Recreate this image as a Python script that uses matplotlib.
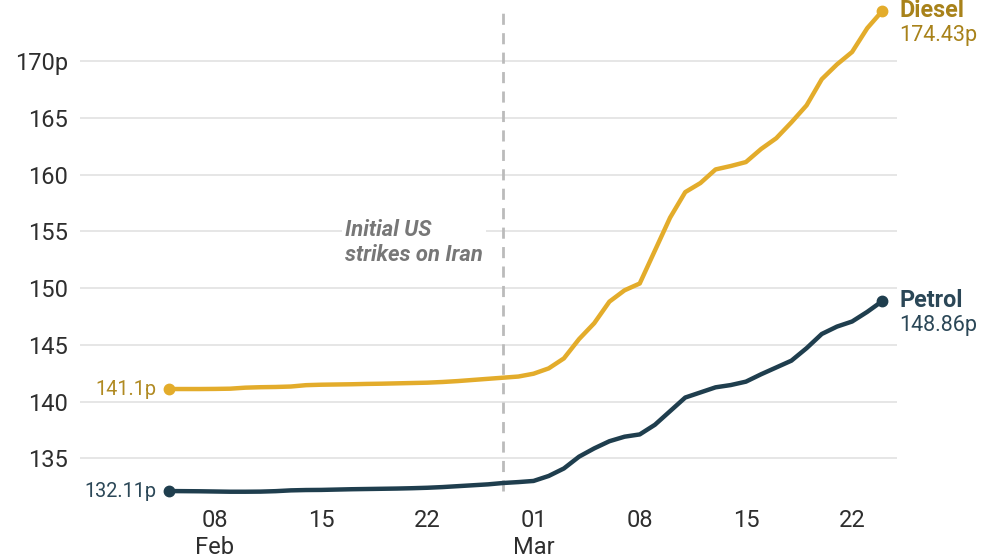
import matplotlib
matplotlib.use('Agg')
import matplotlib.pyplot as plt
import matplotlib.dates as mdates
from datetime import datetime, timedelta

plt.rcParams['font.family'] = ['Roboto', 'DejaVu Sans']

# ---------------- data ----------------
start_date = datetime(2026, 2, 5)
n_days = 48
dates = [start_date + timedelta(days=i) for i in range(n_days)]

diesel = [141.10, 141.10, 141.10, 141.11, 141.13, 141.22, 141.26, 141.28,
          141.32, 141.44, 141.48, 141.50, 141.52, 141.55, 141.57, 141.60,
          141.63, 141.66, 141.72, 141.80, 141.90, 142.00, 142.10, 142.20,
          142.45, 142.92, 143.80, 145.50, 146.90, 148.80, 149.80, 150.40,
          153.30, 156.20, 158.45, 159.25, 160.45, 160.75, 161.10, 162.25,
          163.20, 164.60, 166.10, 168.40, 169.70, 170.80, 172.90, 174.43]

petrol = [132.11, 132.10, 132.09, 132.07, 132.05, 132.05, 132.06, 132.10,
          132.17, 132.20, 132.21, 132.24, 132.27, 132.29, 132.31, 132.33,
          132.36, 132.40, 132.46, 132.54, 132.62, 132.70, 132.82, 132.90,
          133.00, 133.44, 134.10, 135.14, 135.87, 136.50, 136.90, 137.10,
          137.95, 139.15, 140.35, 140.80, 141.25, 141.45, 141.75, 142.40,
          143.00, 143.60, 144.70, 145.95, 146.60, 147.05, 147.90, 148.86]

series_names = ['Diesel', 'Petrol']
start_labels = ['141.1p', '132.11p']
end_labels = ['174.43p', '148.86p']

tick_dates = [datetime(2026, 2, 8), datetime(2026, 2, 15), datetime(2026, 2, 22),
              datetime(2026, 3, 1), datetime(2026, 3, 8), datetime(2026, 3, 15),
              datetime(2026, 3, 22)]
tick_labels = ['08\nFeb', '15', '22', '01\nMar', '08', '15', '22']

y_ticks = [135, 140, 145, 150, 155, 160, 165, 170]
y_tick_labels = ['135', '140', '145', '150', '155', '160', '165', '170p']

event_date = datetime(2026, 2, 27)
event_label = 'Initial US\nstrikes on Iran'

# ---------------- style ----------------
diesel_line = '#E3AC2B'
diesel_text = '#A8821A'
diesel_start_text = '#B08A22'
petrol_line = '#1F3E4E'
petrol_text = '#2B4757'
grid_col = '#E4E4E4'
tick_col = '#2E2E2E'

fig = plt.figure(figsize=(9.95, 5.6), dpi=100)
ax = fig.add_axes([80 / 995, 0.0905, 817 / 995, 0.9018])

mar1 = mdates.date2num(datetime(2026, 3, 1))
ax.set_xlim(mar1 - 29.9, mar1 + 23.96)
ax.set_ylim(130.5, 175)

for s in ax.spines.values():
    s.set_visible(False)

ax.set_yticks(y_ticks)
ax.set_yticklabels(y_tick_labels)
ax.set_xticks([mdates.date2num(d) for d in tick_dates])
ax.set_xticklabels(tick_labels, linespacing=1.2)
ax.tick_params(axis='y', length=0, pad=8.5, labelsize=17, labelcolor=tick_col)
ax.tick_params(axis='x', length=0, pad=0, labelsize=17, labelcolor=tick_col)
ax.grid(axis='y', color=grid_col, linewidth=1.3)
ax.set_axisbelow(True)

# event marker
ax.plot([event_date, event_date], [132.1, 174.5], color='#BBBBBB',
        linewidth=2, linestyle=(0, (4, 3)), zorder=2)
ax.text(event_date - timedelta(days=1.33), 154.0, event_label,
        ha='right', va='center', ma='left', fontsize=15.8, fontweight='bold',
        fontstyle='italic', color='#777777', linespacing=1.2,
        bbox=dict(boxstyle='square,pad=0.15', facecolor='white', edgecolor='none'),
        zorder=3)

series = [(diesel, diesel_line, diesel_text, diesel_start_text),
          (petrol, petrol_line, petrol_text, petrol_text)]

for (vals, lc, tc, sc), name, sl, el in zip(series, series_names, start_labels, end_labels):
    ax.plot(dates, vals, color=lc, linewidth=3.2, solid_joinstyle='round',
            solid_capstyle='round', zorder=4, clip_on=False)
    ax.plot([dates[0], dates[-1]], [vals[0], vals[-1]], 'o', color=lc,
            markersize=7.5, zorder=5, clip_on=False)
    ax.annotate(sl, (dates[0], vals[0]), xytext=(-9.5, 0), textcoords='offset points',
                ha='right', va='center', fontsize=14.3, color=sc)
    ax.annotate(name, (dates[-1], vals[-1]), xytext=(12, 0), textcoords='offset points',
                ha='left', va='center', fontsize=16.8, fontweight='bold', color=tc,
                annotation_clip=False)
    ax.annotate(el, (dates[-1], vals[-1]), xytext=(12, -17.5), textcoords='offset points',
                ha='left', va='center', fontsize=15.5, color=tc, annotation_clip=False)

fig.savefig('out.png', dpi=100, facecolor='white')
